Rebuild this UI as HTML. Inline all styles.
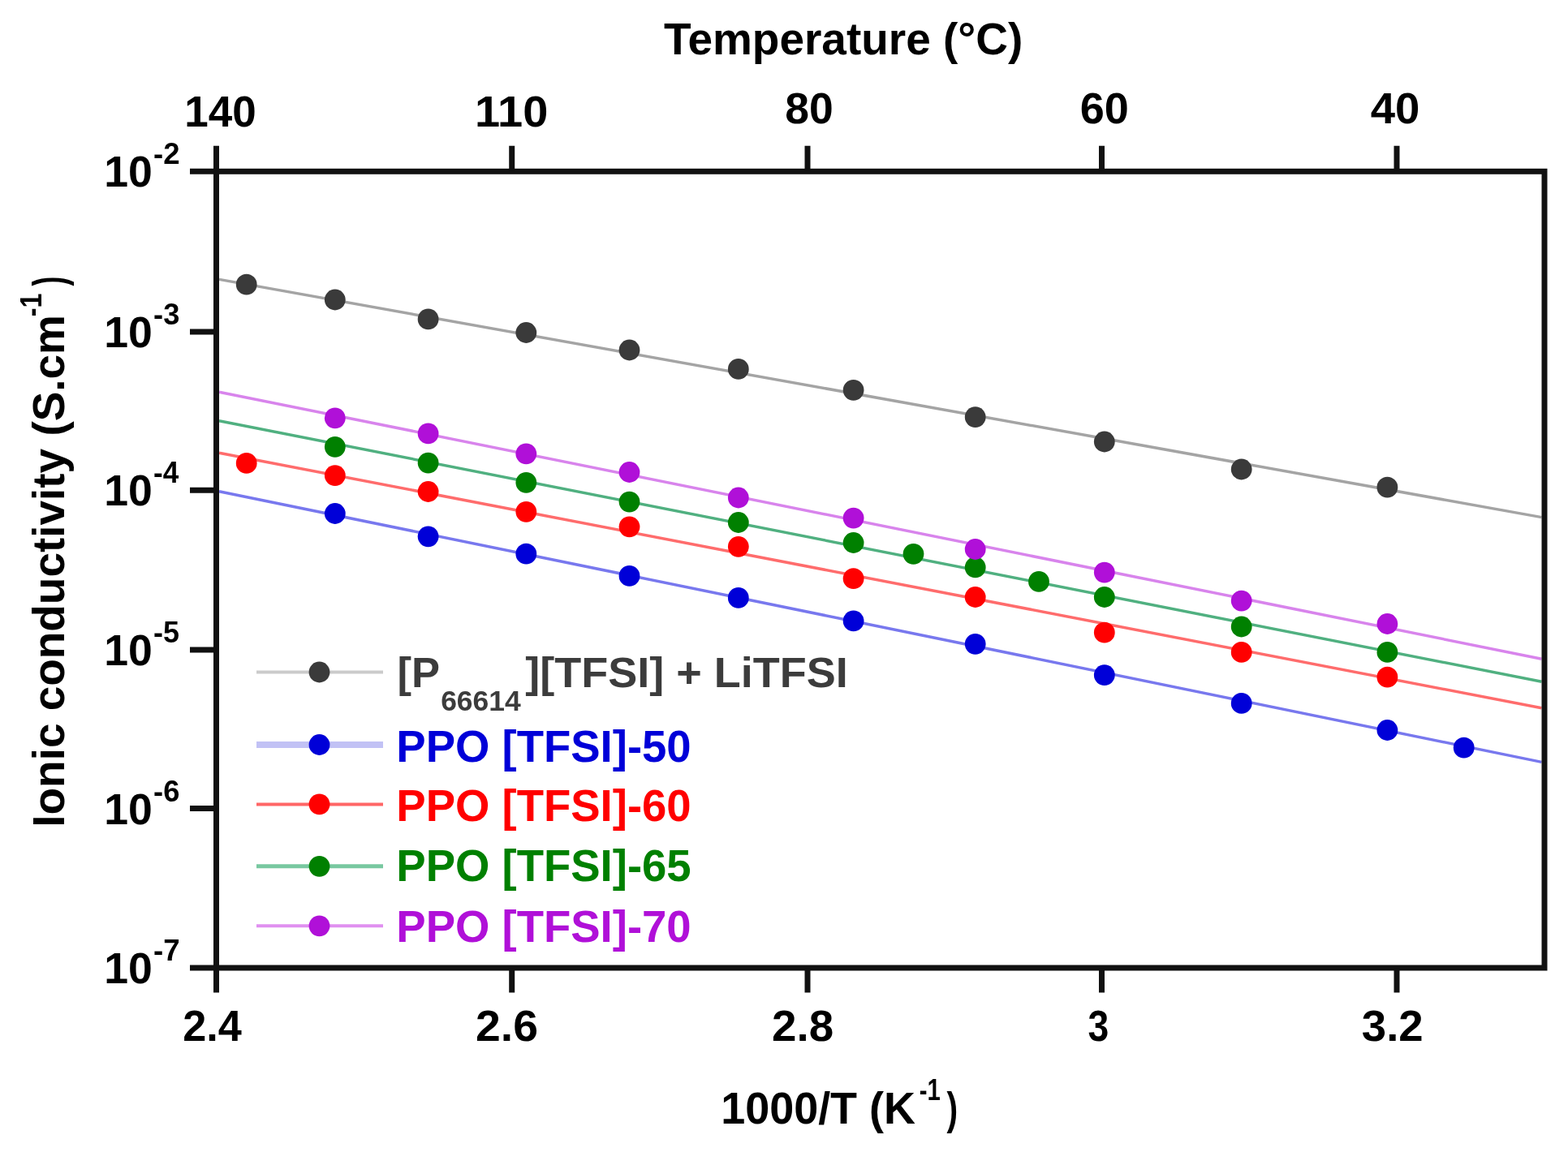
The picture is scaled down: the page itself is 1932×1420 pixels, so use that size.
<!DOCTYPE html>
<html><head><meta charset="utf-8"><title>Ionic conductivity vs 1000/T</title>
<style>
html,body{margin:0;padding:0;background:#fff;}
body{width:1932px;height:1420px;overflow:hidden;}
svg{display:block;}
text{font-family:'Liberation Sans', Arial, Helvetica, sans-serif;font-weight:bold;}
</style></head><body>
<svg width="1932" height="1420" viewBox="0 0 1932 1420">
<rect width="1932" height="1420" fill="#fff"/>
<line x1="270.0" y1="344.4" x2="1899.5" y2="637.6" stroke="#a4a4a4" stroke-width="3.5"/>
<line x1="270.0" y1="605.7" x2="1899.5" y2="939.4" stroke="#7878ee" stroke-width="3.5"/>
<line x1="270.0" y1="558.2" x2="1899.5" y2="872.8" stroke="#ff6c6c" stroke-width="3.5"/>
<line x1="270.0" y1="518.7" x2="1899.5" y2="840.3" stroke="#50b080" stroke-width="3.5"/>
<line x1="270.0" y1="483.2" x2="1899.5" y2="812.2" stroke="#d884ec" stroke-width="3.5"/>
<circle cx="303.7" cy="350.7" r="12.9" fill="#3a3a3a"/>
<circle cx="412.8" cy="369.5" r="12.9" fill="#3a3a3a"/>
<circle cx="527.6" cy="393.4" r="12.9" fill="#3a3a3a"/>
<circle cx="648.3" cy="410" r="12.9" fill="#3a3a3a"/>
<circle cx="775.5" cy="431.5" r="12.9" fill="#3a3a3a"/>
<circle cx="909.8" cy="454.9" r="12.9" fill="#3a3a3a"/>
<circle cx="1051.6" cy="480.8" r="12.9" fill="#3a3a3a"/>
<circle cx="1201.7" cy="514.1" r="12.9" fill="#3a3a3a"/>
<circle cx="1360.8" cy="544.5" r="12.9" fill="#3a3a3a"/>
<circle cx="1529.7" cy="578.5" r="12.9" fill="#3a3a3a"/>
<circle cx="1709.4" cy="600.7" r="12.9" fill="#3a3a3a"/>
<circle cx="412.8" cy="633" r="12.9" fill="#0000d8"/>
<circle cx="527.6" cy="661.3" r="12.9" fill="#0000d8"/>
<circle cx="648.3" cy="682.7" r="12.9" fill="#0000d8"/>
<circle cx="775.5" cy="709.9" r="12.9" fill="#0000d8"/>
<circle cx="909.8" cy="736.9" r="12.9" fill="#0000d8"/>
<circle cx="1051.6" cy="765.4" r="12.9" fill="#0000d8"/>
<circle cx="1201.7" cy="793.8" r="12.9" fill="#0000d8"/>
<circle cx="1360.8" cy="832.1" r="12.9" fill="#0000d8"/>
<circle cx="1529.7" cy="866.9" r="12.9" fill="#0000d8"/>
<circle cx="1709.4" cy="900" r="12.9" fill="#0000d8"/>
<circle cx="1803.7" cy="921.7" r="12.9" fill="#0000d8"/>
<circle cx="303.7" cy="570.9" r="12.9" fill="#ff0000"/>
<circle cx="412.8" cy="586.1" r="12.9" fill="#ff0000"/>
<circle cx="527.6" cy="606" r="12.9" fill="#ff0000"/>
<circle cx="648.3" cy="630.8" r="12.9" fill="#ff0000"/>
<circle cx="775.5" cy="649.3" r="12.9" fill="#ff0000"/>
<circle cx="909.8" cy="673.8" r="12.9" fill="#ff0000"/>
<circle cx="1051.6" cy="713.2" r="12.9" fill="#ff0000"/>
<circle cx="1201.7" cy="736" r="12.9" fill="#ff0000"/>
<circle cx="1360.8" cy="779.7" r="12.9" fill="#ff0000"/>
<circle cx="1529.7" cy="803.9" r="12.9" fill="#ff0000"/>
<circle cx="1709.4" cy="834.7" r="12.9" fill="#ff0000"/>
<circle cx="412.8" cy="550.8" r="12.9" fill="#008000"/>
<circle cx="527.6" cy="570.6" r="12.9" fill="#008000"/>
<circle cx="648.3" cy="594.8" r="12.9" fill="#008000"/>
<circle cx="775.5" cy="618.6" r="12.9" fill="#008000"/>
<circle cx="909.8" cy="644" r="12.9" fill="#008000"/>
<circle cx="1051.6" cy="669" r="12.9" fill="#008000"/>
<circle cx="1125.5" cy="682.8" r="12.9" fill="#008000"/>
<circle cx="1201.7" cy="699.4" r="12.9" fill="#008000"/>
<circle cx="1280.0" cy="716.9" r="12.9" fill="#008000"/>
<circle cx="1360.8" cy="736" r="12.9" fill="#008000"/>
<circle cx="1529.7" cy="772.5" r="12.9" fill="#008000"/>
<circle cx="1709.4" cy="803.9" r="12.9" fill="#008000"/>
<circle cx="412.8" cy="515.3" r="12.9" fill="#b010d8"/>
<circle cx="527.6" cy="534.4" r="12.9" fill="#b010d8"/>
<circle cx="648.3" cy="559.3" r="12.9" fill="#b010d8"/>
<circle cx="775.5" cy="582" r="12.9" fill="#b010d8"/>
<circle cx="909.8" cy="613.5" r="12.9" fill="#b010d8"/>
<circle cx="1051.6" cy="638.6" r="12.9" fill="#b010d8"/>
<circle cx="1201.7" cy="677" r="12.9" fill="#b010d8"/>
<circle cx="1360.8" cy="705.6" r="12.9" fill="#b010d8"/>
<circle cx="1529.7" cy="740.6" r="12.9" fill="#b010d8"/>
<circle cx="1709.4" cy="769" r="12.9" fill="#b010d8"/>
<path d="M266.5 179.8V211.3 M266.5 1193.0V1223.5 M630.7 179.8V211.3 M630.7 1193.0V1223.5 M995.0 179.8V211.3 M995.0 1193.0V1223.5 M1357.5 179.8V211.3 M1357.5 1193.0V1223.5 M1721.0 179.8V211.3 M1721.0 1193.0V1223.5 M234.0 211.3H266.5 M234.0 409.0H266.5 M234.0 604.3H266.5 M234.0 801.0H266.5 M234.0 996.5H266.5 M234.0 1193.0H266.5" stroke="#111" stroke-width="7" fill="none"/>
<rect x="266.5" y="211.3" width="1636.5" height="981.7" stroke="#111" stroke-width="7" fill="none"/>
<line x1="316" y1="828.5" x2="472" y2="828.5" stroke="#cbcbcb" stroke-width="4"/>
<circle cx="393.5" cy="828.5" r="12.9" fill="#3a3a3a"/>
<line x1="316" y1="918" x2="472" y2="918" stroke="#c2c2f5" stroke-width="8"/>
<circle cx="393.5" cy="918" r="12.9" fill="#0000d8"/>
<line x1="316" y1="991.4" x2="472" y2="991.4" stroke="#ff6666" stroke-width="4"/>
<circle cx="393.5" cy="991.4" r="12.9" fill="#ff0000"/>
<line x1="316" y1="1067.8" x2="472" y2="1067.8" stroke="#78c8a0" stroke-width="5"/>
<circle cx="393.5" cy="1067.8" r="12.9" fill="#008000"/>
<line x1="316" y1="1141.3" x2="472" y2="1141.3" stroke="#e090f0" stroke-width="4"/>
<circle cx="393.5" cy="1141.3" r="12.9" fill="#b010d8"/>
<text x="489.61" y="847.00" font-size="52.5" fill="#3c3c3c">[P</text>
<text x="543.17" y="876.00" font-size="34.5" fill="#3c3c3c" textLength="98.54" lengthAdjust="spacingAndGlyphs">66614</text>
<text x="647.33" y="847.00" font-size="52.5" fill="#3c3c3c" textLength="397.35" lengthAdjust="spacingAndGlyphs">][TFSI] + LiTFSI</text>
<text x="488.32" y="938.50" font-size="55" fill="#0000d8" textLength="363.36" lengthAdjust="spacingAndGlyphs">PPO [TFSI]-50</text>
<text x="488.32" y="1011.50" font-size="55" fill="#ff0000" textLength="363.36" lengthAdjust="spacingAndGlyphs">PPO [TFSI]-60</text>
<text x="488.32" y="1086.00" font-size="55" fill="#008000" textLength="363.36" lengthAdjust="spacingAndGlyphs">PPO [TFSI]-65</text>
<text x="488.32" y="1160.80" font-size="55" fill="#b010d8" textLength="363.36" lengthAdjust="spacingAndGlyphs">PPO [TFSI]-70</text>
<text x="227.19" y="155.50" font-size="54.5" fill="#000" textLength="88.49" lengthAdjust="spacingAndGlyphs">140</text>
<text x="585.00" y="155.50" font-size="54.5" fill="#000" textLength="90.28" lengthAdjust="spacingAndGlyphs">110</text>
<text x="967.26" y="151.80" font-size="54.5" fill="#000" textLength="59.50" lengthAdjust="spacingAndGlyphs">80</text>
<text x="1330.67" y="151.80" font-size="54.5" fill="#000" textLength="60.12" lengthAdjust="spacingAndGlyphs">60</text>
<text x="1688.68" y="151.80" font-size="54.5" fill="#000" textLength="60.63" lengthAdjust="spacingAndGlyphs">40</text>
<text x="225.17" y="1283.00" font-size="54.5" fill="#000" textLength="72.60" lengthAdjust="spacingAndGlyphs">2.4</text>
<text x="586.06" y="1283.00" font-size="54.5" fill="#000" textLength="76.88" lengthAdjust="spacingAndGlyphs">2.6</text>
<text x="951.08" y="1283.00" font-size="54.5" fill="#000" textLength="76.07" lengthAdjust="spacingAndGlyphs">2.8</text>
<text x="1340.46" y="1283.00" font-size="54.5" fill="#000" textLength="25.71" lengthAdjust="spacingAndGlyphs">3</text>
<text x="1677.77" y="1283.00" font-size="54.5" fill="#000" textLength="75.92" lengthAdjust="spacingAndGlyphs">3.2</text>
<text x="128.15" y="230.30" font-size="54" fill="#000" textLength="59.62" lengthAdjust="spacingAndGlyphs">10</text>
<text x="189.04" y="202.30" font-size="37.5" fill="#000" textLength="32.48" lengthAdjust="spacingAndGlyphs">-2</text>
<text x="128.15" y="428.00" font-size="54" fill="#000" textLength="59.62" lengthAdjust="spacingAndGlyphs">10</text>
<text x="189.05" y="400.00" font-size="37.5" fill="#000" textLength="32.28" lengthAdjust="spacingAndGlyphs">-3</text>
<text x="128.15" y="623.30" font-size="54" fill="#000" textLength="59.62" lengthAdjust="spacingAndGlyphs">10</text>
<text x="189.10" y="595.30" font-size="37.5" fill="#000" textLength="31.13" lengthAdjust="spacingAndGlyphs">-4</text>
<text x="128.15" y="820.00" font-size="54" fill="#000" textLength="59.62" lengthAdjust="spacingAndGlyphs">10</text>
<text x="189.06" y="792.00" font-size="37.5" fill="#000" textLength="31.99" lengthAdjust="spacingAndGlyphs">-5</text>
<text x="128.15" y="1015.50" font-size="54" fill="#000" textLength="59.62" lengthAdjust="spacingAndGlyphs">10</text>
<text x="189.05" y="987.50" font-size="37.5" fill="#000" textLength="32.28" lengthAdjust="spacingAndGlyphs">-6</text>
<text x="128.15" y="1212.00" font-size="54" fill="#000" textLength="59.62" lengthAdjust="spacingAndGlyphs">10</text>
<text x="189.03" y="1184.00" font-size="37.5" fill="#000" textLength="32.58" lengthAdjust="spacingAndGlyphs">-7</text>
<text x="817.95" y="67.00" font-size="55" fill="#000" textLength="442.27" lengthAdjust="spacingAndGlyphs">Temperature (°C)</text>
<text x="888.13" y="1384.50" font-size="55" fill="#000" textLength="239.85" lengthAdjust="spacingAndGlyphs">1000/T (K</text>
<text x="1132.83" y="1355.50" font-size="36" fill="#000" textLength="26.02" lengthAdjust="spacingAndGlyphs">-1</text>
<text x="1166.40" y="1384.50" font-size="55" fill="#000" textLength="13.68" lengthAdjust="spacingAndGlyphs">)</text>
<text transform="translate(79.00 1019.71) rotate(-90)" font-size="55" fill="#000" textLength="631.63" lengthAdjust="spacingAndGlyphs">Ionic conductivity (S.cm</text>
<text transform="translate(50.50 390.29) rotate(-90)" font-size="36" fill="#000" textLength="28.74" lengthAdjust="spacingAndGlyphs">-1</text>
<text transform="translate(79.00 352.59) rotate(-90)" font-size="55" fill="#000" textLength="11.89" lengthAdjust="spacingAndGlyphs">)</text>
</svg>
</body></html>
